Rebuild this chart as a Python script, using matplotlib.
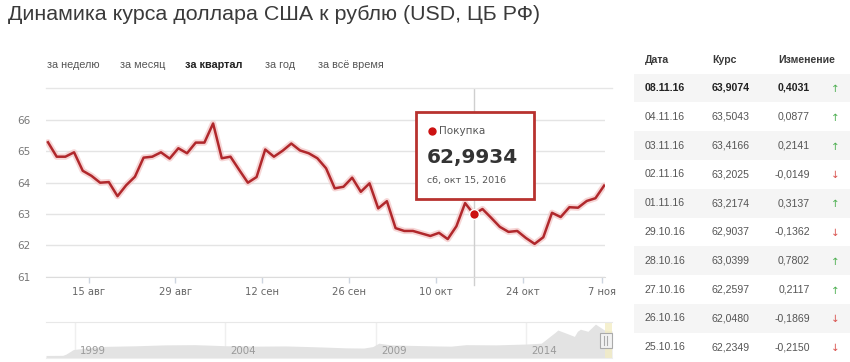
import numpy as np
import pandas as pd
import matplotlib
matplotlib.use("Agg")
import matplotlib.pyplot as plt
from matplotlib.patches import Rectangle

W, H = 850, 362

# CBR USD/RUB rate, Tue-Sat fixing dates, Aug 9 - Nov 8 2016
dates = pd.bdate_range("2016-08-09", "2016-11-08", freq="C",
                       weekmask="Tue Wed Thu Fri Sat", holidays=["2016-11-05"])
rates = [65.29, 64.83, 64.83, 64.97, 64.38, 64.22, 64.00, 64.02, 63.57, 63.92,
         64.19, 64.80, 64.83, 64.97, 64.77, 65.10, 64.94, 65.28, 65.28, 65.89,
         64.78, 64.83, 64.41, 64.00, 64.18, 65.06, 64.83, 65.02, 65.25, 65.03,
         64.94, 64.78, 64.46, 63.82, 63.87, 64.16, 63.71, 63.98, 63.18, 63.41,
         62.55, 62.46, 62.46, 62.38, 62.30, 62.40, 62.20, 62.61, 63.35, 62.9934,
         63.16, 62.88, 62.59, 62.43, 62.46, 62.2349, 62.0480, 62.2597, 63.0399, 62.9037,
         63.2174, 63.2025, 63.4166, 63.5043, 63.9074]
hover_idx = 49

tick_dates = ["2016-08-15", "2016-08-29", "2016-09-12", "2016-09-26",
              "2016-10-10", "2016-10-24", "2016-11-07"]
tick_labels = ["15 авг", "29 авг", "12 сен", "26 сен", "10 окт", "24 окт", "7 ноя"]
y_ticks = [61, 62, 63, 64, 65, 66]

ranges = ["за неделю", "за месяц", "за квартал", "за год", "за всё время"]
range_x = [47, 120, 185, 265, 318]
active_range = "за квартал"

# table on the right
table_dates = ["08.11.16", "04.11.16", "03.11.16", "02.11.16", "01.11.16",
               "29.10.16", "28.10.16", "27.10.16", "26.10.16", "25.10.16"]
table_rates = [63.9074, 63.5043, 63.4166, 63.2025, 63.2174,
               62.9037, 63.0399, 62.2597, 62.0480, 62.2349]
table_changes = [0.4031, 0.0877, 0.2141, -0.0149, 0.3137,
                 -0.1362, 0.7802, 0.2117, -0.1869, -0.2150]

# navigator (whole history), approximate
nav_years = [1998.04, 1998.6, 1998.7, 1998.95, 1999.5, 2000.0, 2001.0, 2002.0,
             2003.0, 2004.0, 2005.0, 2006.0, 2007.0, 2008.0, 2008.6, 2008.9,
             2009.1, 2009.5, 2010.0, 2011.0, 2011.5, 2012.0, 2013.0, 2014.0,
             2014.5, 2014.95, 2015.05, 2015.35, 2015.6, 2015.7, 2015.8, 2016.05,
             2016.3, 2016.6, 2016.85]
nav_vals = [6.0, 6.3, 9.0, 20.0, 24.5, 27.5, 28.8, 31.0, 31.5, 29.0,
            28.0, 28.5, 26.5, 24.0, 23.5, 27.0, 35.0, 31.0, 30.0, 28.5,
            28.0, 31.5, 31.0, 33.0, 35.0, 60.0, 66.0, 58.0, 51.0, 63.0,
            68.0, 63.0, 80.0, 66.0, 64.0]
nav_labels = [1999, 2004, 2009, 2014]

ru_days = ["пн", "вт", "ср", "чт", "пт", "сб", "вс"]
ru_months = ["янв", "фев", "мар", "апр", "май", "июн", "июл", "авг", "сен", "окт", "ноя", "дек"]


def fmt(v, nd=4):
    return f"{v:.{nd}f}".replace(".", ",")


def fr(x0, y0, x1, y1):
    return [x0 / W, 1 - y1 / H, (x1 - x0) / W, (y1 - y0) / H]


fig = plt.figure(figsize=(W / 100, H / 100), dpi=100)
fig.patch.set_facecolor("white")

# main chart
ax = fig.add_axes(fr(46, 88.7, 605, 276.7))
x = np.arange(len(rates))
ax.plot(x, rates, color="#f3c4c4", lw=4.5, alpha=0.7, solid_capstyle="round", zorder=3)
ax.plot(x, rates, color="#b0282c", lw=1.8, zorder=4)
ax.plot([hover_idx, hover_idx], [60.75, 67], color="#cfcfcf", lw=1, clip_on=False, zorder=2)
ax.plot(hover_idx, rates[hover_idx], "o", ms=7, color="#cc1111", mec="white", mew=1, zorder=5)

ax.set_xlim(-0.23, 64.1)
ax.set_ylim(61, 67)
ax.set_yticks(y_ticks)
ax.set_yticklabels([str(t) for t in y_ticks])
ax.grid(axis="y", color="#e4e4e4", lw=1)
ax.set_axisbelow(True)
ord_dates = np.array([d.toordinal() for d in dates])
tick_pos = np.interp([pd.Timestamp(t).toordinal() for t in tick_dates], ord_dates, x)
ax.set_xticks(tick_pos)
ax.set_xticklabels(tick_labels)
ax.tick_params(axis="y", length=0, pad=11, labelsize=7.5, labelcolor="#777777")
ax.tick_params(axis="x", length=4, width=1, color="#cdd5e0", pad=3.5, labelsize=7.2,
               labelcolor="#666666")
for s in ["top", "right", "left"]:
    ax.spines[s].set_visible(False)
ax.spines["bottom"].set_color("#dcdcdc")
for lab in ax.get_xticklabels() + ax.get_yticklabels():
    lab.set_family("DejaVu Sans")

# navigator
nav = fig.add_axes(fr(46, 322, 612, 358))
nav.fill_between(nav_years, nav_vals, 0, color="#e3e3e3", lw=0)
nav.set_xlim(nav_years[0], nav_years[-1])
nav.set_ylim(0, 85)
for yr in nav_labels:
    nav.axvline(yr, color="#efefef", lw=1, zorder=0)
    nav.text(yr + 0.18, 16, str(yr), fontsize=7.4, color="#9a9a9a", va="center",
             family="DejaVu Sans")
nav.axvspan(dates[0].year + (dates[0].dayofyear - 1) / 366,
            nav_years[-1], color="#f3edc4", alpha=0.8, lw=0)
nav.set_xticks([])
nav.set_yticks([])
for s in ["left", "right"]:
    nav.spines[s].set_visible(False)
nav.spines["top"].set_color("#e8e8e8")
nav.spines["bottom"].set_color("#eeeeee")

# overlay in pixel coordinates
ov = fig.add_axes([0, 0, 1, 1])
ov.set_xlim(0, W)
ov.set_ylim(H, 0)
ov.axis("off")

ov.text(8, 14, "Динамика курса доллара США к рублю (USD, ЦБ РФ)", fontsize=15.4,
        color="#3a3a3a", va="center", family="Liberation Sans")

for name, bx in zip(ranges, range_x):
    bold = name == active_range
    ov.text(bx, 65, name, fontsize=7.8, va="center", family="Liberation Sans",
            color="#222222" if bold else "#555555", weight="bold" if bold else "normal")

ov.plot([46, 612], [88, 88], color="#e6e6e6", lw=1)

# tooltip
ov.add_patch(Rectangle((416, 112), 118, 87, facecolor="white", edgecolor="#b8322f", lw=2, zorder=5))
ov.plot(432, 131, "o", ms=5, color="#cc1111", zorder=6)
ov.text(439, 131, "Покупка", fontsize=7.5, color="#555555", va="center",
        family="DejaVu Sans", zorder=6)
ov.text(427, 157, fmt(rates[hover_idx]), fontsize=14.5, weight="bold", color="#333333",
        va="center", family="DejaVu Sans", zorder=6)
hd = dates[hover_idx]
ov.text(427, 181, f"{ru_days[hd.weekday()]}, {ru_months[hd.month - 1]} {hd.day}, {hd.year}",
        fontsize=6.8, color="#555555", va="center", family="DejaVu Sans", zorder=6)

# navigator handle
ov.add_patch(Rectangle((600, 333), 12, 15, facecolor="#f2f2f2", edgecolor="#aaaaaa", lw=0.8))
ov.plot([604.5, 604.5], [336, 345], color="#aaaaaa", lw=0.8)
ov.plot([607.5, 607.5], [336, 345], color="#aaaaaa", lw=0.8)

# table
hdr_y = 60
for label, tx in zip(["Дата", "Курс", "Изменение"], [645, 712, 778]):
    ov.text(tx, hdr_y, label, fontsize=7.6, weight="bold", color="#3a3a3a", va="center",
            family="Liberation Sans")
row0, step = 88, 28.8
for i, (d, r, c) in enumerate(zip(table_dates, table_rates, table_changes)):
    yc = row0 + i * step
    if i % 2 == 0:
        ov.add_patch(Rectangle((634, yc - step / 2), 216, step, facecolor="#f5f5f5", lw=0))
    w = "bold" if i == 0 else "normal"
    col = "#222222" if i == 0 else "#555555"
    ov.text(645, yc, d, fontsize=7.6, color=col, weight=w, va="center", family="Liberation Sans")
    ov.text(712, yc, fmt(r), fontsize=7.6, color=col, weight=w, va="center", family="Liberation Sans")
    ov.text(810, yc, fmt(c), fontsize=7.6, color=col, weight=w, va="center", ha="right",
            family="Liberation Sans")
    up = c > 0
    ov.text(835, yc + 1, "↑" if up else "↓", fontsize=7.5, color="#4caf50" if up else "#d9534f",
            va="center", ha="center", family="DejaVu Sans")

fig.savefig("out.png", dpi=100)
